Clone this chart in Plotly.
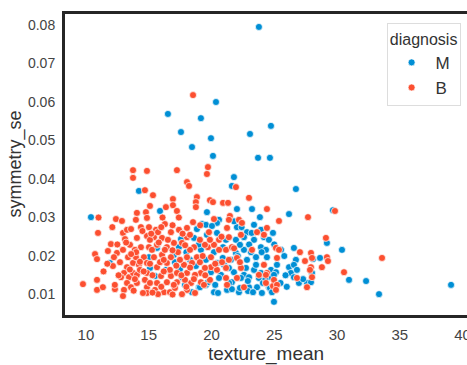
import plotly.graph_objects as go

# diagnosis = M (malignant)
m_texture = [23.78, 20.36, 16.53, 19.16, 17.57, 19.96, 23.07, 24.74, 18.45, 20.12, 23.71, 24.66,
             14.22, 15.90, 10.40, 11.91, 21.63, 26.73, 26.18, 29.68, 29.20, 30.40, 30.96, 32.32,
             33.35, 39.09, 24.98,
             15.66, 17.41, 18.61, 18.84, 19.24, 17.57, 15.02, 17.01, 15.10, 17.49, 18.76, 15.50,
             17.65, 19.00, 18.45,
             19.64, 22.03, 23.23, 23.86, 20.60, 20.44, 19.56, 20.04, 22.03, 22.83, 23.39, 23.94,
             19.64, 20.44, 21.16, 21.95, 22.59, 23.39, 24.18, 24.58, 20.20, 21.95, 22.59, 23.15,
             23.94, 24.34, 19.56, 20.44, 21.00, 21.55, 22.83, 23.55, 24.42, 19.96, 20.76, 21.79,
             22.59, 23.39, 23.94, 24.74, 19.56, 20.60, 21.63, 22.35, 22.99, 23.78, 24.74, 20.20,
             20.52, 21.24, 22.19, 22.99, 23.63, 24.74, 24.58,
             25.54, 26.57, 28.09, 28.65, 26.73, 26.18, 26.57, 25.22, 25.14, 24.98, 26.33, 26.81,
             28.01, 26.57, 26.97, 27.61, 27.93,
             19.08, 21.63, 22.27, 22.91, 24.66, 24.82,
             20.92, 22.27, 23.55, 24.10, 21.39, 22.75, 19.16, 18.29, 17.89, 16.37, 17.09, 19.72,
             23.31, 24.02, 21.79,
             20.9, 22.1, 23.0, 24.0, 25.0, 25.8, 21.4, 22.9, 24.3, 25.5, 20.3, 23.2,
             24.9, 22.4, 25.9, 19.0, 18.0, 27.3, 26.0, 21.8]
m_symmetry = [0.0795, 0.0600, 0.0569, 0.0558, 0.0522, 0.0506, 0.0517, 0.0538, 0.0483, 0.0460, 0.0455, 0.0455,
              0.0369, 0.0317, 0.0301, 0.0182, 0.0382, 0.0374, 0.0309, 0.0319, 0.0234, 0.0216, 0.0138, 0.0135,
              0.0101, 0.0125, 0.0081,
              0.0221, 0.0223, 0.0247, 0.0270, 0.0283, 0.0244, 0.0197, 0.0203, 0.0169, 0.0166, 0.0174, 0.0148,
              0.0145, 0.0119, 0.0106,
              0.0314, 0.0322, 0.0322, 0.0301, 0.0294, 0.0286, 0.0281, 0.0278, 0.0275, 0.0262, 0.0281, 0.0268,
              0.0255, 0.0260, 0.0242, 0.0242, 0.0249, 0.0242, 0.0249, 0.0242, 0.0210, 0.0208, 0.0216, 0.0210,
              0.0223, 0.0216, 0.0190, 0.0182, 0.0177, 0.0190, 0.0190, 0.0197, 0.0197, 0.0158, 0.0151, 0.0158,
              0.0151, 0.0164, 0.0156, 0.0164, 0.0125, 0.0143, 0.0132, 0.0143, 0.0145, 0.0143, 0.0145, 0.0106,
              0.0104, 0.0112, 0.0106, 0.0119, 0.0119, 0.0112, 0.0119,
              0.0216, 0.0221, 0.0192, 0.0195, 0.0190, 0.0171, 0.0177, 0.0177, 0.0158, 0.0151, 0.0156, 0.0164,
              0.0156, 0.0145, 0.0130, 0.0130, 0.0132,
              0.0119, 0.0114, 0.0117, 0.0109, 0.0117, 0.0106,
              0.0223, 0.0229, 0.0177, 0.0130, 0.0169, 0.0169, 0.0216, 0.0190, 0.0125, 0.0164, 0.0184, 0.0132,
              0.0106, 0.0104, 0.0405,
              0.0195, 0.0200, 0.0230, 0.0210, 0.0230, 0.0200, 0.0130, 0.0135, 0.0140, 0.0130, 0.0125, 0.0260,
              0.0260, 0.0275, 0.0150, 0.0230, 0.0210, 0.0140, 0.0120, 0.0290]

# diagnosis = B (benign)
b_texture = [18.53, 13.75, 13.75, 14.86, 17.25, 18.05, 18.21, 14.70, 15.34, 16.93, 16.93, 18.84,
             18.76, 18.76, 15.10, 16.37, 17.25, 14.06, 14.78, 12.39, 12.87, 10.96, 12.95, 13.27,
             13.59, 13.11, 11.99, 12.47, 11.75, 10.72, 10.88, 12.23, 12.15, 12.95, 13.35, 13.27,
             13.03, 13.43, 12.79, 10.88, 9.76, 10.88, 11.35, 12.31, 13.03, 12.95, 13.27, 13.59,
             13.75, 13.75,
             13.98, 14.86, 15.02, 14.38, 16.29, 15.58, 16.77, 17.41, 18.05, 18.53, 14.06, 14.86,
             15.42, 16.06, 18.05, 14.38, 15.02, 15.66, 16.45, 17.01, 18.61, 13.98, 14.62, 15.42,
             16.06, 16.77, 18.05, 18.84, 14.22, 14.86, 15.66, 16.45, 17.81, 18.45, 14.06, 14.86,
             15.98, 16.77, 17.25, 18.05, 19.16, 14.06, 14.86, 15.66, 16.45, 17.25, 18.37, 19.16,
             14.86, 16.22, 16.69, 18.05,
             19.72, 19.64, 21.95, 19.88, 20.12, 20.92, 21.32, 22.99, 21.47, 21.39, 24.42, 20.20,
             19.80, 21.24, 22.19, 22.43, 23.63, 24.42, 20.60, 21.39, 22.35, 24.18, 19.72, 20.20,
             21.16, 21.63, 19.96, 20.60, 22.03, 21.39, 23.23, 19.96, 20.44, 21.16, 22.35, 24.18,
             24.42, 21.16, 22.03, 23.78, 24.34, 21.24, 22.59, 24.34, 24.90,
             25.38, 27.69, 29.84, 29.12, 30.56, 25.14, 25.38, 25.22, 27.05, 27.45, 27.93, 28.01,
             29.20, 29.28, 27.93, 28.80, 24.98, 25.22, 25.14, 26.81, 28.01, 27.85, 27.61, 33.59,
             15.26, 15.90, 16.69, 17.49, 14.70, 15.50, 17.09, 17.89, 18.69, 14.30, 16.29, 17.33,
             18.29, 19.08, 17.65, 15.74, 16.53, 19.48, 19.48, 15.10, 13.51, 12.71, 13.90, 14.54,
             15.74, 17.65, 18.69, 19.88, 20.84, 22.27, 19.08, 18.29, 19.88,
             14.5, 15.2, 16.0, 16.9, 17.7, 13.2, 14.0, 15.8, 16.9, 17.9, 13.6, 14.3,
             15.1, 16.2, 17.2, 18.3, 13.5, 14.6, 15.3, 16.2, 17.6, 18.6, 12.6, 13.9,
             15.1, 16.0, 17.0, 18.0, 19.4, 12.3, 13.8, 15.3, 16.9, 11.4, 11.7, 12.5,
             19.3, 20.3, 19.1, 20.8, 21.8, 19.5, 11.0, 12.1, 17.4, 16.1]
b_symmetry = [0.0618, 0.0423, 0.0403, 0.0421, 0.0423, 0.0392, 0.0382, 0.0371, 0.0358, 0.0348, 0.0332, 0.0353,
              0.0340, 0.0327, 0.0330, 0.0327, 0.0317, 0.0312, 0.0314, 0.0296, 0.0291, 0.0260, 0.0260, 0.0268,
              0.0270, 0.0244, 0.0231, 0.0208, 0.0213, 0.0205, 0.0192, 0.0197, 0.0174, 0.0216, 0.0197, 0.0171,
              0.0156, 0.0145, 0.0145, 0.0138, 0.0127, 0.0112, 0.0119, 0.0114, 0.0112, 0.0096, 0.0130, 0.0119,
              0.0156, 0.0182,
              0.0294, 0.0299, 0.0275, 0.0275, 0.0283, 0.0268, 0.0262, 0.0268, 0.0273, 0.0288, 0.0247, 0.0252,
              0.0249, 0.0247, 0.0249, 0.0223, 0.0223, 0.0229, 0.0223, 0.0234, 0.0223, 0.0197, 0.0197, 0.0197,
              0.0203, 0.0197, 0.0197, 0.0197, 0.0177, 0.0182, 0.0171, 0.0182, 0.0177, 0.0182, 0.0151, 0.0156,
              0.0148, 0.0148, 0.0156, 0.0156, 0.0156, 0.0130, 0.0119, 0.0130, 0.0132, 0.0132, 0.0130, 0.0132,
              0.0104, 0.0106, 0.0106, 0.0112,
              0.0431, 0.0413, 0.0379, 0.0345, 0.0340, 0.0338, 0.0338, 0.0351, 0.0304, 0.0294, 0.0322, 0.0296,
              0.0262, 0.0273, 0.0294, 0.0286, 0.0262, 0.0273, 0.0242, 0.0249, 0.0255, 0.0255, 0.0223, 0.0229,
              0.0216, 0.0223, 0.0197, 0.0216, 0.0195, 0.0190, 0.0216, 0.0171, 0.0164, 0.0169, 0.0169, 0.0177,
              0.0156, 0.0143, 0.0143, 0.0151, 0.0151, 0.0125, 0.0119, 0.0130, 0.0122,
              0.0291, 0.0301, 0.0317, 0.0247, 0.0158, 0.0221, 0.0216, 0.0195, 0.0210, 0.0187, 0.0208, 0.0195,
              0.0197, 0.0187, 0.0171, 0.0171, 0.0138, 0.0125, 0.0112, 0.0143, 0.0145, 0.0164, 0.0119, 0.0195,
              0.0216, 0.0184, 0.0164, 0.0190, 0.0138, 0.0112, 0.0117, 0.0138, 0.0151, 0.0164, 0.0216, 0.0210,
              0.0216, 0.0184, 0.0234, 0.0262, 0.0242, 0.0169, 0.0229, 0.0242, 0.0229, 0.0184, 0.0216, 0.0104,
              0.0101, 0.0101, 0.0104, 0.0138, 0.0184, 0.0184, 0.0242, 0.0255, 0.0242,
              0.0265, 0.0258, 0.0275, 0.0280, 0.0258, 0.0235, 0.0210, 0.0235, 0.0215, 0.0228, 0.0205, 0.0185,
              0.0180, 0.0190, 0.0175, 0.0170, 0.0165, 0.0160, 0.0150, 0.0160, 0.0150, 0.0140, 0.0150, 0.0140,
              0.0130, 0.0120, 0.0125, 0.0120, 0.0125, 0.0125, 0.0110, 0.0105, 0.0100, 0.0160, 0.0180, 0.0230,
              0.0200, 0.0180, 0.0280, 0.0250, 0.0220, 0.0150, 0.0300, 0.0275, 0.0300, 0.0300]

x_ticks = [10, 15, 20, 25, 30, 35, 40]
y_ticks = [0.01, 0.02, 0.03, 0.04, 0.05, 0.06, 0.07, 0.08]

BLUE = "#008fd5"
RED = "#fc4f30"
FONT = "Liberation Sans, Arial, sans-serif"

fig = go.Figure()
fig.add_trace(go.Scatter(
    x=m_texture, y=m_symmetry, mode="markers", name="M",
    marker=dict(color=BLUE, size=7, line=dict(color="white", width=0.7)),
))
fig.add_trace(go.Scatter(
    x=b_texture, y=b_symmetry, mode="markers", name="B",
    marker=dict(color=RED, size=7, line=dict(color="white", width=0.7)),
))

fig.update_layout(
    width=467, height=365,
    margin=dict(l=65, r=0, t=14, b=50),
    paper_bgcolor="white", plot_bgcolor="white",
    font=dict(family=FONT, color="#404040", size=15),
    showlegend=True,
    legend=dict(
        x=0.80, y=0.97, xanchor="left", yanchor="top",
        bgcolor="white", bordercolor="#dddddd", borderwidth=1,
        title=dict(text="diagnosis", side="top center", font=dict(size=16, color="#333333")),
        font=dict(size=17, color="#333333"),
        itemwidth=38,
    ),
    xaxis=dict(
        range=[8.33, 40.36], tickmode="array", tickvals=x_ticks,
        ticktext=[str(v) for v in x_ticks],
        showgrid=False, zeroline=False,
        showline=True, linecolor="#262626", linewidth=3, mirror=True,
        ticks="outside", ticklen=4, tickcolor="white",
        tickfont=dict(size=15, color="#444444"),
        title=dict(text="texture_mean", font=dict(size=19, color="#333333"), standoff=8),
        automargin=False, ticklabeloverflow="allow",
    ),
    yaxis=dict(
        range=[0.00468, 0.08286], tickmode="array", tickvals=y_ticks,
        ticktext=[f"{v:.2f}" for v in y_ticks],
        showgrid=False, zeroline=False,
        showline=True, linecolor="#262626", linewidth=3, mirror=False,
        ticks="outside", ticklen=4, tickcolor="white",
        tickfont=dict(size=14, color="#444444"),
        automargin=False,
    ),
    annotations=[dict(
        text="symmetry_se", textangle=-90, xref="paper", yref="paper",
        x=0, y=0.5, xanchor="center", yanchor="middle", xshift=-50,
        showarrow=False, font=dict(size=18, color="#333333"),
    )],
)

fig.write_html("out.html")
